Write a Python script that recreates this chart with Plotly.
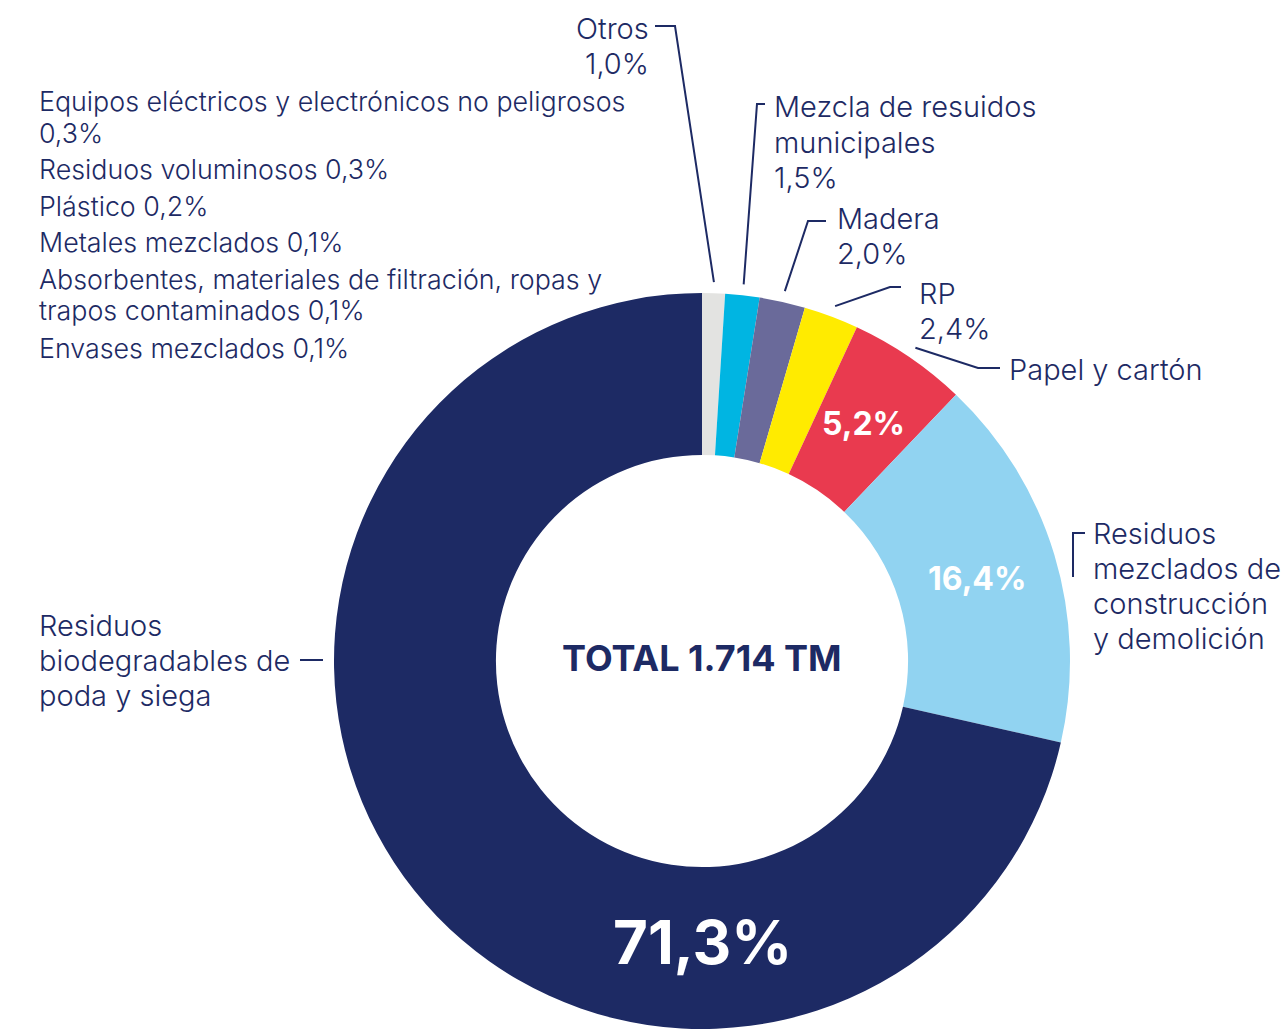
import textwrap
import numpy as np
import plotly.graph_objects as go

# ---------------------------------------------------------------------------
# Data
# ---------------------------------------------------------------------------
# Ring slices, listed clockwise starting at 12 o'clock (percent of total)
slice_names = [
    "Otros",
    "Mezcla de resuidos municipales",
    "Madera",
    "RP",
    "Papel y cartón",
    "Residuos mezclados de construcción y demolición",
    "Residuos biodegradables de poda y siega",
]
slice_values = [1.0, 1.5, 2.0, 2.4, 5.2, 16.4, 71.3]
slice_colors = ["#e3e3e1", "#00b5e2", "#6a6a9a", "#ffeb00", "#e93a4f", "#91d3f1", "#1d2a64"]

# Minor fractions, listed as text only
minor_names = [
    "Equipos eléctricos y electrónicos no peligrosos",
    "Residuos voluminosos",
    "Plástico",
    "Metales mezclados",
    "Absorbentes, materiales de filtración, ropas y trapos contaminados",
    "Envases mezclados",
]
minor_values = [0.3, 0.3, 0.2, 0.1, 0.1, 0.1]

total_tm = 1714

# ---------------------------------------------------------------------------
# Layout constants (pixels)
# ---------------------------------------------------------------------------
W, H = 1281, 1029
CX, CY, R = 702, 661, 368
HOLE = 0.56
NAVY = "#1d2a64"
FONT = "Inter"


def px(x, y):
    """Pixel position -> paper coordinates."""
    return x / W, 1 - y / H


def pct(v):
    return f"{v:.1f}".replace(".", ",") + "%"


def polar(angle_deg, radius):
    a = np.radians(angle_deg)
    return CX + radius * np.sin(a), CY - radius * np.cos(a)


vals = np.array(slice_values)
ends = np.cumsum(vals) / vals.sum() * 360.0
starts = ends - vals / vals.sum() * 360.0
mids = (starts + ends) / 2

fig = go.Figure()

dx0, dy1 = px(CX - R, CY - R)
dx1, dy0 = px(CX + R, CY + R)
fig.add_trace(go.Pie(
    labels=slice_names,
    values=slice_values,
    marker=dict(colors=slice_colors, line=dict(width=0)),
    hole=HOLE,
    sort=False,
    direction="clockwise",
    rotation=0,
    textinfo="none",
    hovertemplate="%{label}: %{value}%<extra></extra>",
    domain=dict(x=[dx0, dx1], y=[max(dy0, 0), dy1]),
    showlegend=False,
))

annotations = []
shapes = []


def add_text(text, x, y, size, xanchor="left", color=NAVY, weight=None):
    xp, yp = px(x, y)
    font = dict(family=FONT, size=size, color=color)
    if weight:
        font["weight"] = weight
    annotations.append(dict(
        text=text, x=xp, y=yp, xref="paper", yref="paper",
        xanchor=xanchor, yanchor="middle", align=xanchor,
        showarrow=False, font=font,
    ))


def add_lines(lines, x, y0, step, size, xanchor="left", weight=300):
    for k, line in enumerate(lines):
        add_text(line, x, y0 + k * step, size, xanchor=xanchor, weight=weight)


def add_path(points):
    coords = [px(x, y) for x, y in points]
    d = "M " + " L ".join(f"{a:.5f},{b:.5f}" for a, b in coords)
    shapes.append(dict(type="path", path=d, xref="paper", yref="paper",
                       line=dict(color=NAVY, width=2)))


# Outside labels: anchor x, first-line centre y, alignment, wrap width, show value
label_spec = [
    dict(x=651, y=28, anchor="right", wrap=40, value=True),
    dict(x=772, y=107, anchor="left", wrap=18, value=True),
    dict(x=835, y=218, anchor="left", wrap=20, value=True),
    dict(x=917, y=293, anchor="left", wrap=20, value=True),
    dict(x=1007, y=370, anchor="left", wrap=30, value=False),
    dict(x=1091, y=533, anchor="left", wrap=12, value=False),
    dict(x=37, y=625, anchor="left", wrap=17, value=False),
]
for name, v, spec in zip(slice_names, slice_values, label_spec):
    lines = textwrap.wrap(name, spec["wrap"])
    if spec["value"]:
        lines.append(pct(v))
    add_lines(lines, spec["x"], spec["y"], 35.3, 29, xanchor=spec["anchor"])

# Leader lines: short tick beside the label, then a stroke to the slice
ticks = [
    [(655, 26), (675, 26)],
    [(765, 104), (757, 104)],
    [(826, 221), (808, 221)],
    [(901, 287), (890, 287)],
    [(1000, 368), (978, 368)],
]
for i, tick in enumerate(ticks):
    end = polar(mids[i], R + 11)
    add_path(tick + [end])
add_path([(1085, 533), (1073, 533), (1073, 577)])
add_path([(323, 660), (300, 660)])

# Values printed inside the ring
ring_mid = R * (1 + HOLE) / 2
inside_idx = [4, 5, 6]
inside_sizes = [32, 32, 60]
for i, size in zip(inside_idx, inside_sizes):
    # the dominant slice carries its value at the bottom of the ring
    last = i == len(slice_values) - 1
    ang = 180.0 if last else mids[i]
    x, y = polar(ang, 281 if last else ring_mid)
    add_text(pct(slice_values[i]), x, y, size, xanchor="center",
             color="white", weight=700)

# Minor fractions list
minor_y = [101, 169, 206, 242, 279, 348]
for name, v, y in zip(minor_names, minor_values, minor_y):
    lines = textwrap.wrap(f"{name} {pct(v)}", 47)
    add_lines(lines, 37, y, 31.5, 26.8)

# Centre total
add_text(f"TOTAL {total_tm:,} TM".replace(",", "."), CX, 658, 36,
         xanchor="center", weight=700)

fig.update_layout(
    width=W, height=H,
    margin=dict(l=0, r=0, t=0, b=0),
    paper_bgcolor="white", plot_bgcolor="white",
    annotations=annotations, shapes=shapes,
)

fig.write_html("out.html")
